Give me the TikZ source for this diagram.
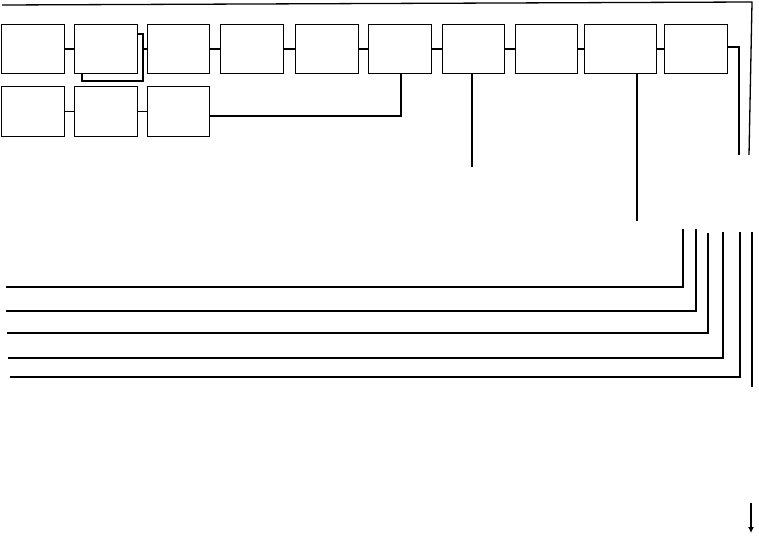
\documentclass[tikz,border=0pt]{standalone}
\usetikzlibrary{calc,arrows.meta}
\begin{document}
\begin{tikzpicture}[x=1pt,y=-1pt,
  box/.style={draw,line width=1.3pt,minimum height=49pt,inner sep=0pt,anchor=north west},
  wire/.style={line width=1.3pt},
  every path/.style={line width=1.3pt}]
\useasboundingbox (0,0) rectangle (759,537);
% top row
\node[box,minimum width=63pt] (b1) at (1,24) {};
\node[box,minimum width=63pt] (b2) at (74,24) {};
\node[box,minimum width=62pt] (b3) at (147,24) {};
\node[box,minimum width=63pt] (b4) at (220,24) {};
\node[box,minimum width=63pt] (b5) at (295,24) {};
\node[box,minimum width=63pt] (b6) at (368,24) {};
\node[box,minimum width=62pt] (b7) at (442,24) {};
\node[box,minimum width=62pt] (b8) at (515,24) {};
\node[box,minimum width=72pt] (b9) at (584,24) {};
\node[box,minimum width=63pt] (b10) at (664,24) {};
% second row
\node[box,minimum width=63pt,minimum height=50pt] (c1) at (1,86) {};
\node[box,minimum width=63pt,minimum height=50pt] (c2) at (74,86) {};
\node[box,minimum width=62pt,minimum height=50pt] (c3) at (147,86) {};
% links top row
\draw[wire] (b1.east) -- (b2.west);
\draw[wire] (b3.east) -- (b4.west);
\draw[wire] (b4.east) -- (b5.west);
\draw[wire] (b5.east) -- (b6.west);
\draw[wire] (b6.east) -- (b7.west);
\draw[wire] (b7.east) -- (b8.west);
\draw[wire] (b8.east) -- (b9.west);
\draw[wire] (b9.east) -- (b10.west);
% box2 loop
\coordinate (j1) at (143,34);
\coordinate (j2) at (143,81);
\coordinate (j3) at (82,81);
\draw[wire] ($(b2.north east)+(0,10)$) -- (j1) -- (j2) -- (j3) -- (j3 |- b2.south);
\draw[wire] (j1 |- b3.west) -- (b3.west);
% second row links
\draw[wire] (c1.east) -- (c2.west);
\draw[wire] (c2.east) -- (c3.west);
\coordinate (k1) at (401,116);
\draw[wire] (c3.east |- k1) -- (k1) -- (k1 |- b6.south);
% drops
\coordinate (d7) at (472,167);
\draw[wire] (d7 |- b7.south) -- (d7);
\coordinate (d9) at (637,221);
\draw[wire] (d9 |- b9.south) -- (d9);
\coordinate (e1) at (739,47);
\coordinate (e2) at (739,155);
\draw[wire] (b10.east |- e1) -- (e1) -- (e2);
% top frame line
\coordinate (t0) at (2,5);
\coordinate (t1) at (752,2);
\coordinate (t2) at (749,155);
\draw[wire] (t0) -- (t1) -- (t2);
% lower bus lines
\coordinate (v1) at (683,229); \coordinate (h1) at (6,287);
\coordinate (v2) at (696,229); \coordinate (h2) at (6,311);
\coordinate (v3) at (708,233); \coordinate (h3) at (7,333);
\coordinate (v4) at (723,232); \coordinate (h4) at (8,358);
\coordinate (v5) at (740,232); \coordinate (h5) at (10,377);
\coordinate (v6) at (752,232); \coordinate (h6) at (752,387);
\draw[wire] (v1) -- (v1 |- h1) -- (h1);
\draw[wire] (v2) -- (v2 |- h2) -- (h2);
\draw[wire] (v3) -- (v3 |- h3) -- (h3);
\draw[wire] (v4) -- (v4 |- h4) -- (h4);
\draw[wire] (v5) -- (v5 |- h5) -- (h5);
\draw[wire] (v6) -- (h6);
% arrow
\coordinate (a1) at (751,503);
\coordinate (a2) at (751,533);
\draw[wire,-{Latex[length=6pt,width=6pt]}] (a1) -- (a2);
\end{tikzpicture}
\end{document}
